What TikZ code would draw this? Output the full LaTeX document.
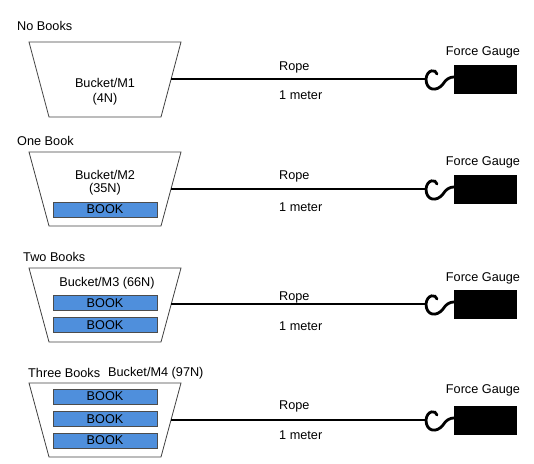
\documentclass[tikz,border=0pt]{standalone}
\usepackage{fontspec}
\setmainfont{Liberation Sans}
\definecolor{bookblue}{HTML}{4F8FDC}

\begin{document}
\begin{tikzpicture}[x=1pt,y=-1pt,
bucket/.style={draw=black!75, line width=0.8pt, line join=miter},
book/.style={draw=black!70, fill=bookblue, minimum width=104pt, minimum height=15pt, inner sep=0pt, font=\fontsize{12.7}{14}\selectfont},
gauge/.style={fill=black, minimum width=63pt, minimum height=29pt, inner sep=0pt},
txt/.style={inner sep=0pt, font=\fontsize{12.7}{14}\selectfont},
lefttxt/.style={txt, anchor=west},
rope/.style={line width=1.4pt},
hookline/.style={line width=2.8pt, line cap=round}
]
    \useasboundingbox (0,0) rectangle (534,463);

    % no books
    \node [lefttxt] (l1) at (17,26) {No Books};
    \draw [bucket] (29,42) -- (181,42) -- (161,117) -- (49,117) -- cycle;
    \coordinate (s1) at (171,79);
    \node [txt] (m1) at (105,83) {Bucket/M1};
    \node [txt] (w1) at (105,99) {(4N)};
    \coordinate (h1) at (426,79);
    \node [gauge] (g1) at (485.5,79.5) {};
    \node [txt] (f1) at (483,52) {Force Gauge};
    \node [lefttxt] (r1) at (279,67) {Rope};
    \node [lefttxt] (d1) at (279,95) {1 meter};
    \draw [rope] (s1) -- (h1);
    \draw [hookline] (437,74) .. controls (436,69) and (427,69) .. (h1) .. controls (426,91) and (437,92) .. (443,84) .. controls (446,79) and (450,77) .. (g1.west |- 0,77);

    % one book
    \node [lefttxt] (l2) at (17,141) {One Book};
    \draw [bucket] (29,152) -- (181,152) -- (161,226) -- (49,226) -- cycle;
    \coordinate (s2) at (171,189);
    \node [txt] (m2) at (105,175) {Bucket/M2};
    \node [txt] (w2) at (105,189) {(35N)};
    \node [book] (k21) at (105,209.5) {BOOK};
    \coordinate (h2) at (426,189);
    \node [gauge] (g2) at (485.5,189.5) {};
    \node [txt] (f2) at (483,162) {Force Gauge};
    \node [lefttxt] (r2) at (279,176) {Rope};
    \node [lefttxt] (d2) at (279,207) {1 meter};
    \draw [rope] (s2) -- (h2);
    \draw [hookline] (437,184) .. controls (436,179) and (427,179) .. (h2) .. controls (426,201) and (437,202) .. (443,194) .. controls (446,189) and (450,187) .. (g2.west |- 0,187);

    % two books
    \node [lefttxt] (l3) at (23,257) {Two Books};
    \draw [bucket] (29,268) -- (181,268) -- (161,342) -- (49,342) -- cycle;
    \coordinate (s3) at (171,304);
    \node [txt] (m3) at (107,283) {Bucket/M3 (66N)};
    \node [book] (k31) at (105,303) {BOOK};
    \node [book] (k32) at (105,325) {BOOK};
    \coordinate (h3) at (426,304);
    \node [gauge] (g3) at (485.5,304.5) {};
    \node [txt] (f3) at (483,278) {Force Gauge};
    \node [lefttxt] (r3) at (279,297) {Rope};
    \node [lefttxt] (d3) at (279,326) {1 meter};
    \draw [rope] (s3) -- (h3);
    \draw [hookline] (437,299) .. controls (436,294) and (427,294) .. (h3) .. controls (426,316) and (437,317) .. (443,309) .. controls (446,304) and (450,302) .. (g3.west |- 0,302);

    % three books
    \node [lefttxt] (l4) at (28,373) {Three Books};
    \node [lefttxt] (m4) at (108,373) {Bucket/M4 (97N)};
    \draw [bucket] (29,383) -- (181,383) -- (161,457) -- (49,457) -- cycle;
    \coordinate (s4) at (171,420);
    \node [book] (k41) at (105,396.5) {BOOK};
    \node [book] (k42) at (105,419) {BOOK};
    \node [book] (k43) at (105,440.5) {BOOK};
    \coordinate (h4) at (426,420);
    \node [gauge] (g4) at (485.5,420) {};
    \node [txt] (f4) at (483,390) {Force Gauge};
    \node [lefttxt] (r4) at (279,406) {Rope};
    \node [lefttxt] (d4) at (279,435) {1 meter};
    \draw [rope] (s4) -- (h4);
    \draw [hookline] (437,415) .. controls (436,410) and (427,410) .. (h4) .. controls (426,432) and (437,433) .. (443,425) .. controls (446,420) and (450,418) .. (g4.west |- 0,418);
\end{tikzpicture}
\end{document}
